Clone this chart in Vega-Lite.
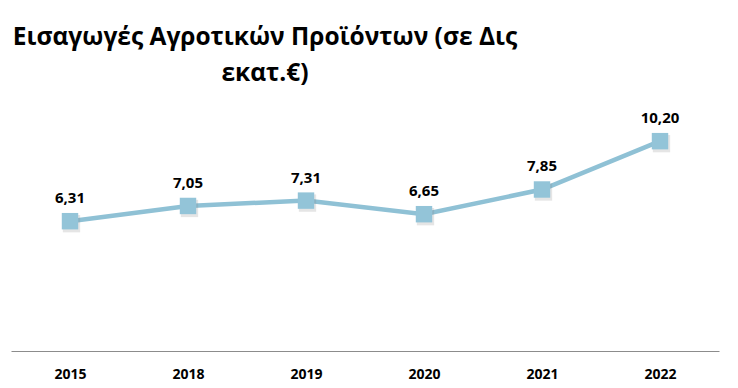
{
  "$schema": "https://vega.github.io/schema/vega-lite/v6.json",
  "width": 708,
  "height": 251,
  "autosize": {"type": "none"},
  "padding": {"left": 11, "right": 19, "top": 100, "bottom": 37},
  "background": "white",
  "config": {
    "view": {"stroke": null},
    "font": "Open Sans",
    "locale": {"number": {"decimal": ",", "thousands": ".", "grouping": [3], "currency": ["", "€"]}}
  },
  "title": {
    "text": ["Εισαγωγές Αγροτικών Προϊόντων (σε Δις", "εκατ.€)"],
    "anchor": "start",
    "align": "center",
    "dx": 254,
    "font": "Open Sans",
    "fontSize": 24.5,
    "fontWeight": "bold",
    "color": "#000000",
    "lineHeight": 36,
    "offset": 14
  },
  "data": {
    "values": [
      {"year": "2015", "value": 6.31},
      {"year": "2018", "value": 7.05},
      {"year": "2019", "value": 7.31},
      {"year": "2020", "value": 6.65},
      {"year": "2021", "value": 7.85},
      {"year": "2022", "value": 10.20}
    ]
  },
  "encoding": {
    "x": {
      "field": "year", "type": "ordinal", "title": null,
      "axis": {
        "labelAngle": 0, "ticks": false, "grid": false,
        "domainColor": "#8c8c8c", "domainWidth": 1.2,
        "labelFont": "Open Sans", "labelFontSize": 14, "labelFontWeight": "bold",
        "labelColor": "#000000", "labelPadding": 16
      }
    },
    "y": {
      "field": "value", "type": "quantitative",
      "scale": {"domain": [0, 12.2], "nice": false, "zero": true},
      "axis": null
    }
  },
  "layer": [
    {"mark": {"type": "line", "color": "#8fc1d5", "strokeWidth": 4.5}},
    {"mark": {"type": "point", "shape": "square", "filled": true, "size": 300, "color": "#7f7f7f", "opacity": 0.2, "xOffset": 1.5, "yOffset": 2.5}},
    {"mark": {"type": "point", "shape": "square", "filled": true, "size": 270, "color": "#93c4d8", "opacity": 1}},
    {"mark": {"type": "text", "dy": -23, "font": "Open Sans", "fontSize": 15, "fontWeight": "bold", "color": "#000000"},
     "encoding": {"text": {"field": "value", "type": "quantitative", "format": ".2f"}}}
  ]
}
